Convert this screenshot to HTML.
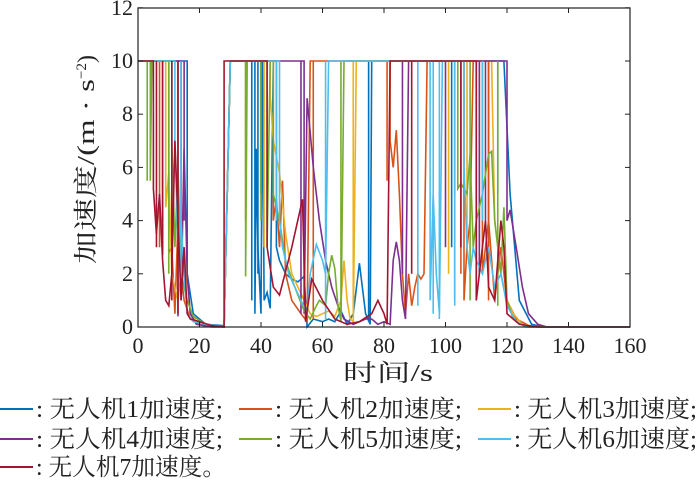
<!DOCTYPE html>
<html><head><meta charset="utf-8"><style>
body{margin:0;background:#fff;width:700px;height:482px;overflow:hidden;}
svg text{font-family:"Liberation Serif","Noto Serif CJK SC","Noto Sans CJK SC",serif;}
</style></head><body>
<svg id="s" width="700" height="482" xmlns="http://www.w3.org/2000/svg">
<g id="plot" fill="none" stroke-width="1.6"></g>
<rect x="138" y="8" width="492" height="319" fill="none" stroke="#222" stroke-width="1.2"/>
<g id="ticks" stroke="#222" stroke-width="1"></g>
<g font-size="22" fill="#222" text-anchor="end" id="yl"></g>
<g font-size="22" fill="#222" text-anchor="middle" id="xl"></g>
<text x="343" y="381" font-size="24" fill="#222" textLength="90" lengthAdjust="spacingAndGlyphs">时间/s</text>
<text transform="translate(94,264) rotate(-90)" font-size="24" fill="#222"><tspan textLength="185" lengthAdjust="spacingAndGlyphs">加速度/(m · s</tspan><tspan dy="-8" font-size="15">−2</tspan><tspan dy="8">)</tspan></text>
<g font-size="24" fill="#222" id="leg"></g>
</svg>
<script>
const X=t=>138+t*3.075, Y=v=>327-v*26.6;
const ns="http://www.w3.org/2000/svg";
const C=["#0072BD","#D95319","#EDB120","#7E2F8E","#77AC30","#4DBEEE","#A2142F"];
const data=[
[[0,10],[16,10],[16,2],[18,0.5],[22,0.1],[28,0.05],[30,10],[38,10],[38,0.5],[38.5,6.7],[39,3],[40,0.5],[40.5,10],[41,1],[42,1.3],[43,0.7],[44,10],[45,10],[45,3],[46,2.5],[48,2],[50,1.8],[52,1.7],[54,1.9],[55,0],[57,0.3],[60,0.2],[62,0.3],[64,0.2],[66,0.6],[68,0.1],[70,0.5],[72,2.4],[74,0.5],[75.5,0.1],[76,10],[119,10],[121,5],[124,1],[128,0.1],[132,0],[160,0]],
[[0,10],[10,10],[10,2.8],[11,3],[12,0.5],[13,4],[14,2],[15,1],[17,0.3],[20,0.1],[28,0],[30,10],[44,10],[44,4],[45,4.8],[46,3],[47,5.5],[48,2],[50,1],[53,0.5],[55,0.2],[56,10],[82,10],[82,7],[83,6],[84,7.4],[85,5],[86,2],[87,0.5],[88,2],[89,0.8],[90,1.5],[91,2],[92,1.8],[93,2],[94,10],[106,10],[106,1],[107,3],[108,4],[109,10],[112,10],[112,2],[114,4],[116,1],[118,3],[120,1],[123,0.3],[128,0],[160,0]],
[[0,10],[9,10],[9,4.5],[10,5.8],[11,2],[13,1],[15,3],[17,0.5],[19,0.2],[22,0.1],[28,0],[30,10],[43,10],[43,8.7],[44,7],[46,5.8],[48,3.5],[50,2],[52,1.5],[54,1],[56,0.5],[58,0.4],[60,0.5],[62,0.6],[64,0.4],[66,1],[67,2.5],[68,1],[69,0.3],[70,0.2],[71,10],[115,10],[116,4],[118,2],[120,1],[122,0.5],[125,0.1],[130,0],[160,0]],
[[0,10],[14,10],[14,1],[15,6.7],[16,2],[17,0.5],[19,0.1],[24,0],[28,0],[30,10],[54,10],[54,0.5],[55,8.6],[57,6],[59,4],[61,2.5],[63,1.5],[65,0.8],[67,0.3],[70,0.1],[74,0.3],[76,0.3],[78,0.1],[80,0.2],[82,0.1],[83,2.5],[84,3.2],[85,2.5],[86,1],[87,0.3],[88,10],[120,10],[120,4],[121,4.4],[123,3],[125,1.5],[127,0.5],[130,0.1],[133,0],[160,0]],
[[0,10],[4,10],[4,5.5],[4.5,10],[11,10],[11,7],[12,3],[13,6],[14,2],[16,1],[18,0.4],[22,0.1],[28,0],[30,10],[35,10],[35,1.9],[35.5,10],[42,10],[42,3],[43,10],[44,10],[44,5],[46,4],[48,2.5],[50,1.8],[52,1.2],[54,0.6],[56,0.3],[58,0.8],[59,1],[61,0.8],[62,2],[63,2.7],[64,2.2],[65,0.8],[66,0.2],[67,10],[104,10],[104,5.2],[105,5.4],[107,5],[108,6.5],[109,3],[110,4],[112,5],[114,6.5],[115,6.6],[116,4],[118,2],[119,4.5],[120,1],[122,0.3],[126,0],[160,0]],
[[0,10],[12,10],[12,7],[13,3],[14,4],[15,2],[16,0.5],[18,0.2],[22,0.1],[28,0],[30,10],[46,10],[46,4],[47,3],[49,2],[51,1.5],[53,1],[55,0.5],[56,2],[58,3.1],[60,2.5],[61,2],[62,10],[95,10],[95,1],[96,5],[97,2],[98,0.5],[99,10],[106,10],[106,6],[107,3],[108,2],[109,3],[110,2.5],[112,2],[114,3],[116,1.5],[118,2],[120,0.8],[123,0.2],[127,0],[160,0]],
[[0,10],[5,10],[5,5.2],[6,3.5],[7,5],[8,2.5],[9,1],[10,0.8],[11,2],[12,7],[13,4],[14,1],[15,3],[16,0.5],[17,0.3],[20,0.2],[24,0.05],[28,0],[28,10],[42,10],[42,3],[44,1.5],[46,1.2],[50,3],[53.5,4.8],[54.5,0.2],[56.5,1.8],[60,1],[64,0.3],[68,0.1],[72,0.2],[76,0.5],[78,1],[80,0.5],[81,0.1],[82,10],[110,10],[110,1],[112,3],[113,4],[114,1.5],[116,1],[118,4],[119,3],[120,0.5],[124,0.1],[130,0],[160,0]]
];
const spikes=[
[[37,1],[39,2],[40,5],[75,0.2],[102,3],[114,4],[117,5]],
[[7,3],[8,2.8],[35,4],[57,0.3],[81,5.5],[103,1],[105,2],[111,3],[114,1]],
[[8,4.8],[10,4],[41,3],[70,0.3],[101,2],[107,3]],
[[13,0.4],[15,4],[53,0.5],[86,2],[100,3],[111,2],[113,4]],
[[3,5.5],[10,2],[13,3],[40,4],[66,0.4],[103,5],[108,1],[117,0.8]],
[[11,3],[14,2],[45,4],[61,0.3],[91,0.8],[96,0.5],[98,0.3],[103,0.8],[105,5],[112,4]],
[[6,3],[8,2.7],[11,1],[13,0.5],[89,2],[105,3],[110,1]]
];
const P=document.getElementById("plot");
data.forEach((d,i)=>{const p=document.createElementNS(ns,"polyline");p.setAttribute("points",d.map(q=>X(q[0]).toFixed(1)+","+Y(q[1]).toFixed(1)).join(" "));p.setAttribute("stroke",C[i]);P.appendChild(p);
spikes[i].forEach(s=>{const l=document.createElementNS(ns,"line");l.setAttribute("x1",X(s[0]));l.setAttribute("x2",X(s[0]));l.setAttribute("y1",Y(10));l.setAttribute("y2",Y(s[1]));l.setAttribute("stroke",C[i]);P.appendChild(l);});});
const T=document.getElementById("ticks"),YL=document.getElementById("yl"),XL=document.getElementById("xl");
for(let v=0;v<=12;v+=2){const y=Y(v);T.innerHTML+=`<line x1="138" x2="143" y1="${y}" y2="${y}"/><line x1="625" x2="630" y1="${y}" y2="${y}"/>`;YL.innerHTML+=`<text x="133" y="${y+7}">${v}</text>`;}
for(let t=0;t<=160;t+=20){const x=X(t);T.innerHTML+=`<line x1="${x}" x2="${x}" y1="322" y2="327"/><line x1="${x}" x2="${x}" y1="8" y2="13"/>`;XL.innerHTML+=`<text x="${x}" y="353">${t}</text>`;}
const L=document.getElementById("leg");
const cols=[0,239,478],rows=[417,447,475];
for(let i=0;i<7;i++){const c=cols[i%3],r=rows[Math.floor(i/3)];
const ln=document.createElementNS(ns,"line");ln.setAttribute("x1",c);ln.setAttribute("x2",c+33);ln.setAttribute("y1",r-8);ln.setAttribute("y2",r-8);ln.setAttribute("stroke",C[i]);ln.setAttribute("stroke-width","2");L.appendChild(ln);
const tx=document.createElementNS(ns,"text");tx.setAttribute("x",c+36);tx.setAttribute("y",r);tx.setAttribute("textLength",i==6?"190":(i%3==2?"183":"187"));tx.setAttribute("lengthAdjust","spacingAndGlyphs");tx.textContent=": 无人机"+(i+1)+"加速度"+(i==6?"。":";");L.appendChild(tx);}
</script>
</body></html>
